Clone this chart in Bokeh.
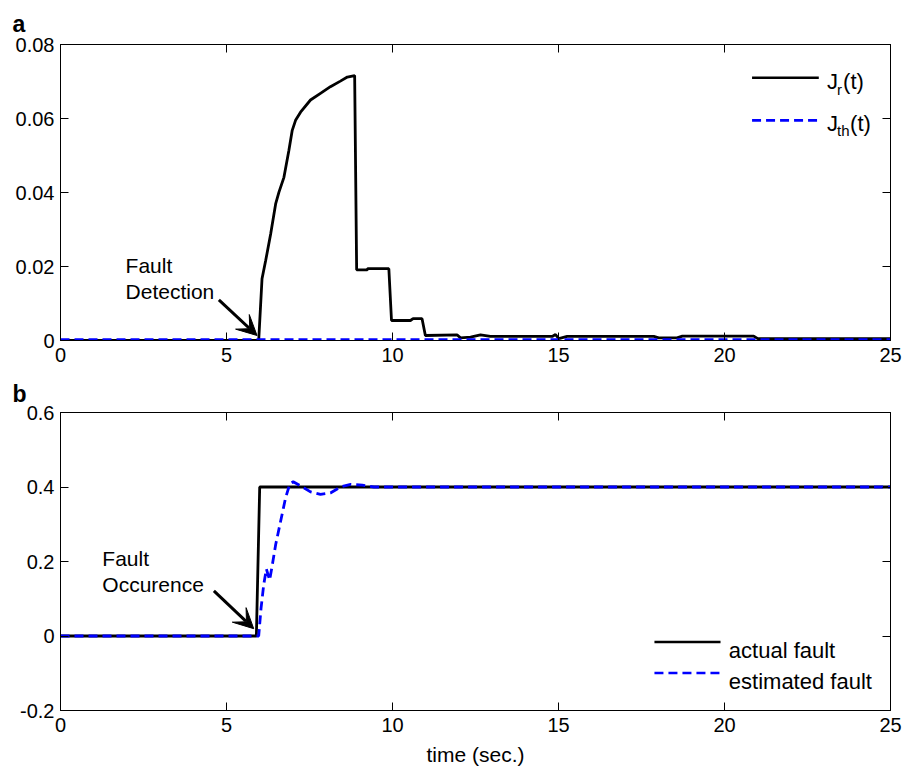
from bokeh.plotting import figure
from bokeh.layouts import column
from bokeh.models import (Range1d, FixedTicker, PrintfTickFormatter, LinearAxis,
                          Label, Arrow, VeeHead, CustomJSTickFormatter, Title)
from bokeh.embed import file_html
from bokeh.resources import INLINE

# ---------------- data ----------------
# panel a: residual evaluation function J_r(t) and threshold J_th(t)
t_jr = [0, 5.97, 6.07, 6.18, 6.33, 6.48, 6.58, 6.73, 6.88, 6.98, 7.08, 7.23, 7.53,
        7.83, 8.13, 8.43, 8.64, 8.86, 8.92, 9.24, 9.25, 9.89, 9.97, 10.54, 10.62,
        10.89, 10.99, 11.95, 12.05, 12.35, 12.65, 12.95, 14.81, 14.91, 15.01, 15.26,
        17.87, 18.02, 18.57, 18.73, 20.88, 21.0, 25]
j_r = [0, 0, 0.0167, 0.0216, 0.0288, 0.0369, 0.0401, 0.0441, 0.0514, 0.0568, 0.0595,
       0.0617, 0.0650, 0.0668, 0.0686, 0.0701, 0.0712, 0.0716, 0.0191, 0.0191, 0.0194,
       0.0194, 0.0054, 0.0054, 0.0059, 0.0059, 0.00135, 0.0015, 0.0007, 0.0009, 0.0015,
       0.0011, 0.0011, 0.0016, 0.0005, 0.0011, 0.0011, 0.0007, 0.0007, 0.0012, 0.0012,
       0.0005, 0.0005]
t_jth = [0, 25]
j_th = [0.0002, 0.0002]

# panel b: actual and estimated fault
t_act = [0, 5.9, 6.0, 25]
f_act = [0, 0, 0.4, 0.4]
t_est = [0, 5.97, 6.04, 6.12, 6.2, 6.3, 6.38, 6.48, 6.63, 6.78, 6.91, 7.01, 7.23, 7.53,
         7.83, 8.13, 8.43, 8.74, 9.09, 9.44, 25]
f_est = [0, 0, 0.074, 0.137, 0.180, 0.150, 0.191, 0.245, 0.308, 0.371, 0.409, 0.414,
         0.403, 0.387, 0.380, 0.384, 0.400, 0.407, 0.405, 0.400, 0.400]

x_ticks = [0, 5, 10, 15, 20, 25]
ya_ticks = [0, 0.02, 0.04, 0.06, 0.08]
yb_ticks = [-0.2, 0, 0.2, 0.4, 0.6]

FONT = "Liberation Sans"
TICK_FS = "20px"
TXT_FS = "21px"
SUB_FS = "15px"
BLUE = "#0000ff"


def base_fig(yr, yt, frame_h, top, bottom, panel_letter, letter_standoff):
    p = figure(width=917, height=top + frame_h + bottom,
               x_range=Range1d(0, 25), y_range=Range1d(*yr),
               output_backend="svg", toolbar_location=None, title=None,
               min_border_left=60, min_border_right=27,
               min_border_top=top, min_border_bottom=bottom)
    p.xgrid.visible = False
    p.ygrid.visible = False
    p.outline_line_color = "black"
    p.outline_line_width = 1
    p.background_fill_color = "white"
    p.border_fill_color = "white"
    for ax, ticks in ((p.below[0], x_ticks), (p.left[0], yt)):
        ax.ticker = FixedTicker(ticks=ticks)
        ax.formatter = PrintfTickFormatter(format="%g")
        ax.major_tick_in = 8
        ax.major_tick_out = 0
        ax.minor_tick_line_color = None
        ax.axis_line_color = "black"
        ax.major_tick_line_color = "black"
        ax.major_label_text_font = FONT
        ax.major_label_text_font_size = TICK_FS
        ax.major_label_text_color = "black"
    p.below[0].major_label_standoff = 7
    p.left[0].major_label_standoff = 6
    # mirrored axes (ticks only) on top and right
    for side, ticks in (("above", x_ticks), ("right", yt)):
        ax = LinearAxis(ticker=FixedTicker(ticks=ticks),
                        formatter=CustomJSTickFormatter(code="return ''"),
                        major_tick_in=8, major_tick_out=0,
                        minor_tick_line_color=None,
                        axis_line_color="black", major_label_standoff=0)
        p.add_layout(ax, side)
    p.add_layout(Title(text=panel_letter, align="left", offset=-48,
                       text_font=FONT, text_font_size="23px",
                       text_font_style="bold", text_color="black",
                       standoff=letter_standoff), "above")
    return p


def txt(p, x, y, s, size=TXT_FS, yoff=0, xoff=0):
    p.add_layout(Label(x=x, y=y, text=s, text_font=FONT, text_font_size=size,
                       text_color="black", text_baseline="alphabetic",
                       x_offset=xoff, y_offset=yoff))


def leg_line(p, x0, x1, y, color, dash):
    p.add_layout(Arrow(x_start=x0, y_start=y, x_end=x1, y_end=y, start=None, end=None,
                       line_color=color, line_width=2.6, line_dash=dash))


# ---------------- panel a ----------------
pa = base_fig((0, 0.08), ya_ticks, 296, 44, 31, "a", 15)
pa.line(t_jr, j_r, line_color="black", line_width=2.8)
pa.line(t_jth, j_th, line_color=BLUE, line_width=2.8, line_dash="9 5")

txt(pa, 1.96, 0.0203, "Fault")
txt(pa, 1.96, 0.0133, "Detection")
pa.add_layout(Arrow(x_start=4.77, y_start=0.0110, x_end=5.92, y_end=0.00135,
                    line_width=3, line_color="black",
                    end=VeeHead(size=20, fill_color="black", line_color="black")))

# legend a
leg_line(pa, 20.83, 22.84, 0.0710, "black", "solid")
leg_line(pa, 20.83, 22.84, 0.0595, BLUE, "9 5")
txt(pa, 23.09, 0.0701, "J", size="22px")
txt(pa, 23.09, 0.0701, "r", size=SUB_FS, xoff=10, yoff=-8)
txt(pa, 23.09, 0.0701, "(t)", size="22px", xoff=16)
txt(pa, 23.09, 0.0586, "J", size="22px")
txt(pa, 23.09, 0.0586, "th", size=SUB_FS, xoff=10, yoff=-7)
txt(pa, 23.09, 0.0586, "(t)", size="22px", xoff=23)

# ---------------- panel b ----------------
pb = base_fig((-0.2, 0.6), yb_ticks, 298, 41, 64, "b", 11)
xb = pb.below[0]
xb.axis_label = "time (sec.)"
xb.axis_label_text_font = FONT
xb.axis_label_text_font_size = TXT_FS
xb.axis_label_text_font_style = "normal"
xb.axis_label_text_color = "black"
xb.axis_label_standoff = 8
pb.line(t_act, f_act, line_color="black", line_width=2.8)
pb.line(t_est, f_est, line_color=BLUE, line_width=2.8, line_dash="9 5")

txt(pb, 1.26, 0.209, "Fault")
txt(pb, 1.26, 0.137, "Occurence")
pb.add_layout(Arrow(x_start=4.62, y_start=0.121, x_end=5.82, y_end=0.0197,
                    line_width=3, line_color="black",
                    end=VeeHead(size=20, fill_color="black", line_color="black")))

# legend b
leg_line(pb, 17.89, 19.88, -0.0162, "black", "solid")
leg_line(pb, 17.89, 19.88, -0.0992, BLUE, "9 5")
txt(pb, 20.13, -0.0387, "actual fault", size="22px")
txt(pb, 20.13, -0.122, "estimated fault", size="22px")

layout = column(pa, pb, spacing=0)
open("out.html", "w").write(file_html(layout, INLINE))
